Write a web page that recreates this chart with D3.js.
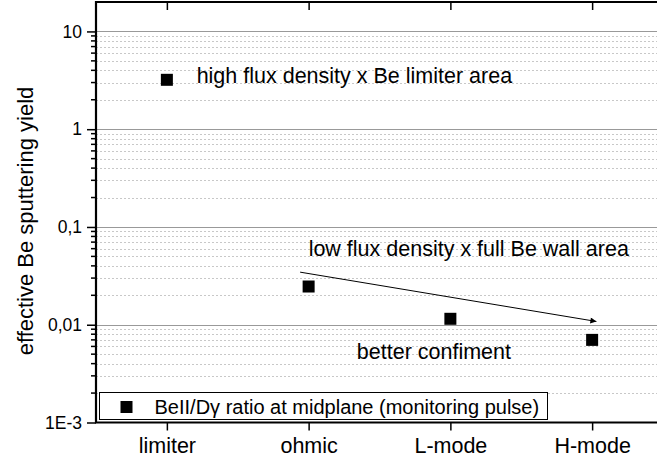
<!DOCTYPE html>
<html>
<head>
<meta charset="utf-8">
<script src="https://cdn.jsdelivr.net/npm/d3@7"></script>
<style>
  body { margin: 0; background: #fff; }
  svg { display: block; font-family: "Liberation Sans", Arial, sans-serif; }
</style>
</head>
<body>
<div id="chart"></div>
<script>
var categories = ["limiter", "ohmic", "L-mode", "H-mode"];
var yieldValues = [3.2, 0.0246, 0.0115, 0.0070];
var yTickValues = [10, 1, 0.1, 0.01, 0.001];
var yTickLabels = ["10", "1", "0,1", "0,01", "1E-3"];
var legendLabel = "BeII/D\u03b3 ratio at midplane (monitoring pulse)";
var arrowFrom = [1.94, 0.0345];
var arrowTo = [4.03, 0.0108];

var width = 657, height = 463;
var margin = {left: 96, top: 2, bottom: 40};
var plotBottom = height - margin.bottom - 0.5;

var svg = d3.select("#chart").append("svg")
    .attr("width", width)
    .attr("height", height);

svg.append("defs").append("marker")
    .attr("id", "arrowhead")
    .attr("viewBox", "0 0 10 10")
    .attr("refX", 10)
    .attr("refY", 5)
    .attr("markerWidth", 12)
    .attr("markerHeight", 6)
    .attr("markerUnits", "userSpaceOnUse")
    .attr("orient", "auto")
    .append("path")
    .attr("d", "M0,0 L10,5 L0,10 Z")
    .attr("fill", "#000");

// x runs past the right edge of the picture, as in the original
var x = d3.scaleLinear().domain([0.5, 4.5]).range([margin.left, 663]);
var y = d3.scaleLog().domain([0.001, 20]).range([plotBottom, margin.top]);

// grid
var minorVals = [];
for (var e = -3; e <= 1; e++) {
    for (var m = 2; m <= 9; m++) {
        var v = m * Math.pow(10, e);
        if (v < 20) minorVals.push(v);
    }
}
var grid = svg.append("g");
grid.selectAll("line.minor")
    .data(minorVals)
    .enter().append("line")
    .attr("class", "minor")
    .attr("x1", margin.left).attr("x2", width)
    .attr("y1", d => Math.round(y(d)) + 0.5)
    .attr("y2", d => Math.round(y(d)) + 0.5)
    .attr("stroke", "#c8c8c8")
    .attr("stroke-dasharray", "2,2");
grid.selectAll("line.major")
    .data(yTickValues.slice(0, 4))
    .enter().append("line")
    .attr("class", "major")
    .attr("x1", margin.left).attr("x2", width)
    .attr("y1", d => Math.round(y(d)) + 0.5)
    .attr("y2", d => Math.round(y(d)) + 0.5)
    .attr("stroke", "#999")
    .attr("stroke-width", 1.2);

// left axis
var yAxis = d3.axisLeft(y)
    .tickValues(yTickValues)
    .tickFormat((d, i) => yTickLabels[i])
    .tickSize(9)
    .tickPadding(5);
var gy = svg.append("g")
    .attr("transform", `translate(${margin.left},0)`)
    .call(yAxis);
gy.select(".domain").remove();
gy.selectAll(".tick line").attr("stroke-width", 1.5);
gy.selectAll("text").attr("font-size", 17.5).attr("fill", "#000");

gy.selectAll("line.minortick")
    .data(minorVals)
    .enter().append("line")
    .attr("class", "minortick")
    .attr("x1", -5).attr("x2", 0)
    .attr("y1", d => y(d)).attr("y2", d => y(d))
    .attr("stroke", "#000")
    .attr("stroke-width", 1.5);

// bottom axis
var xAxis = d3.axisBottom(x)
    .tickValues([1, 2, 3, 4])
    .tickFormat((d, i) => categories[i])
    .tickSize(8)
    .tickPadding(7);
var gx = svg.append("g")
    .attr("transform", `translate(0,${plotBottom})`)
    .call(xAxis);
gx.select(".domain").remove();
gx.selectAll(".tick line").attr("stroke-width", 1.5);
gx.selectAll("text").attr("font-size", 21.5).attr("fill", "#000");

// top axis ticks point inward
var gt = svg.append("g")
    .attr("transform", `translate(0,${margin.top})`)
    .call(d3.axisBottom(x).tickValues([1, 2, 3, 4]).tickFormat("").tickSize(8));
gt.select(".domain").remove();
gt.selectAll(".tick line").attr("stroke-width", 1.5);

// frame
svg.append("path")
    .attr("d", `M${width + 5},${margin.top} H${margin.left} V${plotBottom} H${width + 5}`)
    .attr("fill", "none")
    .attr("stroke", "#000")
    .attr("stroke-width", 2.2);

// arrow
svg.append("line")
    .attr("x1", x(arrowFrom[0])).attr("y1", y(arrowFrom[1]))
    .attr("x2", x(arrowTo[0])).attr("y2", y(arrowTo[1]))
    .attr("stroke", "#000")
    .attr("stroke-width", 1)
    .attr("marker-end", "url(#arrowhead)");

// points
var sz = 12;
svg.append("g").selectAll("rect")
    .data(yieldValues)
    .enter().append("rect")
    .attr("x", (d, i) => x(i + 1) - sz / 2)
    .attr("y", d => y(d) - sz / 2)
    .attr("width", sz)
    .attr("height", sz)
    .attr("fill", "#000");

// annotations (baseline anchored)
var notes = [
    {text: "high flux density x Be limiter area", at: [1.21, 2.95]},
    {text: "low flux density x full Be wall area", at: [2.0, 0.051]},
    {text: "better confiment", at: [2.34, 0.00446]}
];
svg.append("g").selectAll("text")
    .data(notes)
    .enter().append("text")
    .attr("x", d => x(d.at[0]))
    .attr("y", d => y(d.at[1]))
    .attr("font-size", 21.5)
    .text(d => d.text);

// y title
svg.append("text")
    .attr("transform", `translate(33,${221}) rotate(-90)`)
    .attr("text-anchor", "middle")
    .attr("font-size", 22)
    .text("effective Be sputtering yield");

// legend
var lg = svg.append("g").attr("transform", "translate(99.5,392.5)");
lg.append("rect")
    .attr("width", 448).attr("height", 27)
    .attr("fill", "#fff")
    .attr("stroke", "#000")
    .attr("stroke-width", 1);
lg.append("rect")
    .attr("x", 21).attr("y", 8.5)
    .attr("width", 12).attr("height", 12)
    .attr("fill", "#000");
lg.append("text")
    .attr("x", 55).attr("y", 21.5)
    .attr("font-size", 20)
    .text(legendLabel);
</script>
</body>
</html>
